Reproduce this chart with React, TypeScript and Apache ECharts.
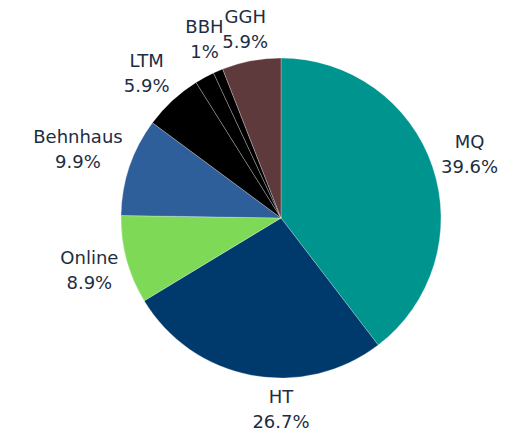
import React, { useEffect, useRef } from "react";
import * as echarts from "echarts";

const categories = ["MQ", "HT", "Online", "Behnhaus", "LTM", "Sonstige", "BBH", "GGH"];
const values = [40, 27, 9, 10, 6, 2, 1, 6];
const colors = ["#00948f", "#003a6c", "#7ed957", "#2f5f9a", "#000000", "#000000", "#000000", "#5e3a3d"];
const hiddenLabels = ["Sonstige"];

const CX = 281;
const CY = 218;
const R = 160;
const OFFSET = 4;

export default function App() {
  const ref = useRef<HTMLDivElement>(null);
  useEffect(() => {
    document.body.style.margin = "0";
    const chart = echarts.init(ref.current!, undefined, { renderer: "svg" });
    const total = values.reduce((a, b) => a + b, 0);
    const cum: number[] = [];
    values.reduce((acc, v, i) => {
      cum[i] = acc;
      return acc + v;
    }, 0);
    chart.setOption({
      animation: false,
      backgroundColor: "#ffffff",
      series: [
        {
          type: "pie",
          center: [CX, CY],
          radius: R,
          startAngle: 90,
          clockwise: true,
          avoidLabelOverlap: false,
          data: categories.map((name, i) => ({
            name,
            value: values[i],
            itemStyle: { color: colors[i] },
            label: { show: !hiddenLabels.includes(name) },
          })),
          itemStyle: { borderColor: "rgba(255,255,255,0.45)", borderWidth: 0.6 },
          label: {
            position: "outside",
            formatter: (p: any) => `${p.name}\n${+((p.value / total) * 100).toFixed(1)}%`,
            color: "#1d2d42",
            fontFamily: "DejaVu Sans",
            fontSize: 18,
            lineHeight: 25,
            align: "center",
          },
          labelLine: { show: false },
          emphasis: { disabled: true },
          labelLayout: (p: any) => {
            const i = p.dataIndex;
            const mid = ((cum[i] + values[i] / 2) / total) * Math.PI * 2;
            const dx = Math.sin(mid);
            const dy = -Math.cos(mid);
            const w = p.labelRect.width;
            const h = p.labelRect.height;
            const d = R + OFFSET + (Math.abs(dx) * w) / 2 + (Math.abs(dy) * h) / 2;
            // labels of slices near the bottom sit centred under the pie
            const x = dy > 0.95 ? CX : CX + d * dx;
            return { x, y: CY + d * dy, align: "center", verticalAlign: "middle" };
          },
        },
      ],
    });
    return () => chart.dispose();
  }, []);
  return <div ref={ref} style={{ width: 505, height: 431 }} />;
}
